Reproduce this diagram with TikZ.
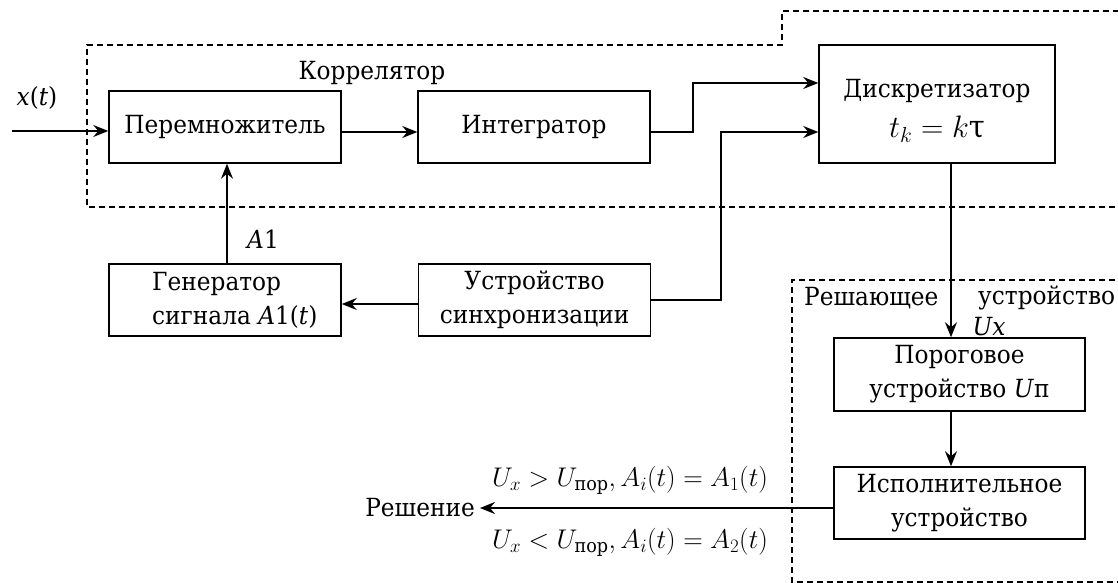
\RequirePackage{fix-cm}
\documentclass[tikz,border=0pt]{standalone}
\usepackage{amsmath}
\usepackage{fontspec}
\setmainfont{DejaVu Serif}[FakeStretch=0.93]
\usetikzlibrary{arrows.meta}

\begin{document}
\begin{tikzpicture}[x=1pt,y=-1pt,
  font=\fontsize{25}{34}\selectfont,
  block/.style={draw,line width=1.5pt,minimum width=232pt,minimum height=72pt,inner sep=0pt,align=center},
  lbl/.style={inner sep=0pt},
  math/.style={inner sep=0pt,font=\fontsize{27}{32}\selectfont},
  arr/.style={line width=1.5pt,-{Stealth[length=15pt,width=12pt,inset=5pt]}},
  frame/.style={line width=1.3pt,dash pattern=on 6pt off 4pt},
]
\useasboundingbox (0,0) rectangle (1118,583);

% dashed outlines of the correlator and of the decision unit
\draw[frame] (1125,207) -- (87,207) -- (87,45) -- (782,45) -- (782,11) -- (1125,11);
\draw[frame] (1125,280) -- (792,280) -- (792,582) -- (1125,582);

% blocks
\node[block] (mult) at (225,127) {Перемножитель};
\node[block] (integ) at (534,127) {Интегратор};
\node[block,minimum width=236pt,minimum height=118pt] (disc) at (937,104) {};
\node[lbl,align=center] (disctxt) at (937,111)
  {Дискретизатор\\[6pt]{\fontsize{31}{34}\selectfont$t_k = k\text{τ}$}};
\node[block] (gen) at (225,300) {};
\node[lbl,anchor=west,align=left] (gentxt) at (152,300) {Генератор\\сигнала \textit{A}1(\textit{t})};
\node[block] (sync) at (534.5,300) {Устройство\\синхронизации};
\node[block,minimum width=251pt,minimum height=73pt] (thr) at (959.5,374.5)
  {Пороговое\\устройство \textit{U}п};
\node[block,minimum width=251pt] (exec) at (959.5,503) {Исполнительное\\устройство};

% labels
\node[lbl] (corlab) at (372,73) {Коррелятор};
\node[lbl] (xlab) at (37,98) {\textit{x}(\textit{t})};
\node[lbl] (a1lab) at (263,239) {\textit{A}1};
\node[lbl,anchor=west] (declab1) at (804,298) {Решающее};
\node[lbl,anchor=west] (declab2) at (978,298) {устройство};
\node[lbl] (uxlab) at (989,327) {\textit{Ux}};
\node[lbl,anchor=east,inner xsep=5pt] (res) at (480,508) {Решение};
\node[math] (cond1) at (630,480) {$U_x > U_{\text{пор}}, A_i(t) = A_1(t)$};
\node[math] (cond2) at (630,542) {$U_x < U_{\text{пор}}, A_i(t) = A_2(t)$};

% wire corners
\coordinate (xin) at (12,131);
\coordinate (j1) at (693,83);
\coordinate (j2) at (721,132);
\coordinate (j3) at (951,0);
\coordinate (ga) at (227,0);

% connectors
\draw[arr] (xin) -- (xin -| mult.west);
\draw[arr] ([yshift=-5pt]mult.east) -- ([yshift=-5pt]integ.west);
\draw[arr] ([yshift=-5pt]integ.east) -| (j1) -- (j1 -| disc.west);
\draw[arr] (sync.east) -| (j2) -- (j2 -| disc.west);
\draw[arr] ([yshift=-4pt]sync.west) -- ([yshift=-4pt]gen.east);
\draw[arr] (gen.north -| ga) -- (mult.south -| ga);
\draw[arr] (disc.south -| j3) -- (thr.north -| j3);
\draw[arr] (thr.south -| j3) -- (exec.north -| j3);
\draw[arr] ([yshift=-5pt]exec.west) -- (res.east);
\end{tikzpicture}
\end{document}
